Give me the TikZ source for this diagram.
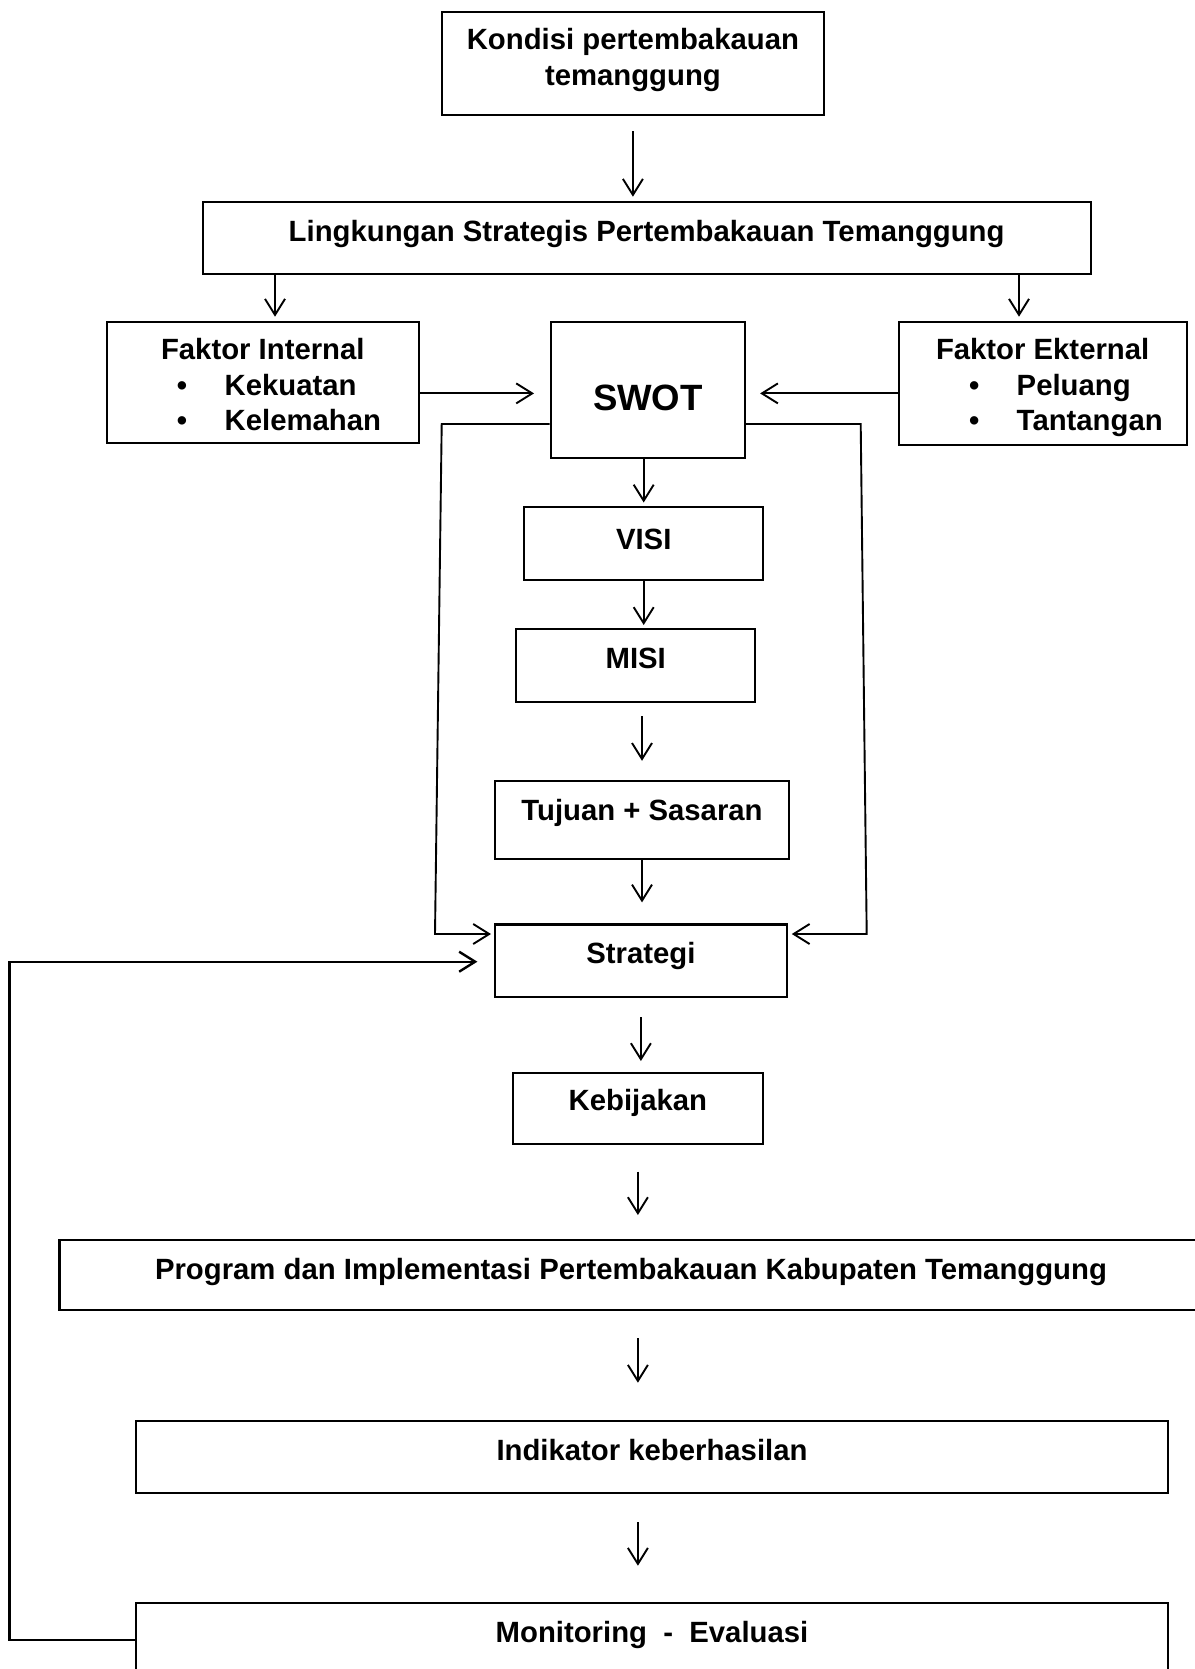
\documentclass[tikz,border=0pt]{standalone}
\usepackage{fontspec}
\setmainfont{Liberation Sans}
\usetikzlibrary{arrows.meta}
\tikzset{box/.style={draw,line width=2.1pt,inner sep=0pt,anchor=north,text height=39.5pt,font=\fontsize{29.3}{35.5}\selectfont\bfseries}}
\tikzset{multibox/.style={draw,line width=2.1pt,inner sep=0pt,anchor=north,align=center,font=\fontsize{29.3}{35.5}\selectfont\bfseries}}
\tikzset{arr/.style={line width=1.9pt,-{Straight Barb[length=16pt,width=20pt]}}}
\newcommand{\faktoritem}[2]{\makebox[#1][l]{\hspace*{70.3pt}\textbullet\hspace*{37.5pt}#2}}

\begin{document}
\begin{tikzpicture}[x=1pt,y=-1pt]
      \useasboundingbox (0,0) rectangle (1194,1669);
      \pgfmathsetmacro{\intw}{312.3}
      \pgfmathsetmacro{\extw}{287.9}
      \coordinate (lx) at (275,0);
      \coordinate (rx) at (1019,0);
      \coordinate (ay) at (0,393.4);
      \coordinate (ly) at (0,424);
      \coordinate (sy) at (0,934);
      \coordinate (fy) at (0,961.7);
      \coordinate (my) at (0,1640);
      \coordinate (llt) at (441.7,424);
      \coordinate (llb) at (435,934);
      \coordinate (rlt) at (860.7,424);
      \coordinate (rlb) at (866.7,934);
      \coordinate (fbt) at (9.5,961.7);
      \coordinate (fbb) at (9.5,1640);

      \node[multibox,minimum width=382.3pt,minimum height=103pt] (kondisi) at (632.9,11) {Kondisi pertembakauan\\temanggung\rule[-13.2pt]{0pt}{13.2pt}};
      \node[box,minimum width=888pt,text depth=32.8pt] (lingkungan) at (646.6,201) {Lingkungan Strategis Pertembakauan Temanggung};
      \node[multibox,minimum width=\intw pt,minimum height=120.7pt] (internal) at (262.8,321) {\rule{0pt}{25.5pt}Faktor Internal\\\faktoritem{\intw pt}{Kekuatan}\\\faktoritem{\intw pt}{Kelemahan}};
      \node[box,minimum width=194.3pt,text height=88.8pt,text depth=46.7pt,font=\fontsize{36.6}{44}\selectfont\bfseries] (swot) at (647.9,321) {SWOT};
      \node[multibox,minimum width=\extw pt,minimum height=123.3pt] (eksternal) at (1042.65,321) {\rule{0pt}{29pt}Faktor Ekternal\\\faktoritem{\extw pt}{Peluang}\\\faktoritem{\extw pt}{Tantangan}};
      \node[box,minimum width=239.3pt,text height=42.5pt,text depth=30.2pt] (visi) at (643.7,506.3) {VISI};
      \node[box,minimum width=239.3pt,text depth=33.2pt] (misi) at (635.7,628) {MISI};
      \node[box,minimum width=294.6pt,text depth=38.1pt] (tujuan) at (642,780) {Tujuan + Sasaran};
      \node[box,minimum width=291.7pt,text depth=33.1pt] (strategi) at (640.9,923.4) {Strategi};
      \node[box,minimum width=250.2pt,text height=37.5pt,text depth=33.8pt] (kebijakan) at (637.9,1071.7) {Kebijakan};
      \node[box,minimum width=1143pt,text depth=30.5pt] (program) at (631,1239) {Program dan Implementasi Pertembakauan Kabupaten Temanggung};
      \node[box,minimum width=1032.7pt,text depth=32.8pt] (indikator) at (652,1420) {Indikator keberhasilan};
      \node[box,minimum width=1032.7pt,text depth=32.5pt] (monitoring) at (652,1602.3) {Monitoring\ \ -\ \ Evaluasi};

      \draw[arr,shorten <=15.3pt,shorten >=4.3pt] (kondisi.south) -- (kondisi.south |- lingkungan.north);
      \draw[arr,shorten >=4.3pt] (lingkungan.south -| lx) -- (internal.north -| lx);
      \draw[arr,shorten >=4.3pt] (lingkungan.south -| rx) -- (eksternal.north -| rx);
      \draw[arr,shorten >=15.7pt] (internal.east |- ay) -- (swot.west |- ay);
      \draw[arr,shorten >=14pt] (eksternal.west |- ay) -- (swot.east |- ay);
      \draw[arr,shorten >=3.8pt] (visi.north |- swot.south) -- (visi.north);
      \draw[arr,shorten >=3pt] (visi.south) -- (visi.south |- misi.north);
      \draw[arr,shorten <=13.3pt,shorten >=19.2pt] (tujuan.north |- misi.south) -- (tujuan.north);
      \draw[arr,shorten >=21pt] (tujuan.south) -- (tujuan.south |- strategi.north);
      \draw[arr,shorten <=19pt,shorten >=10.7pt] (strategi.south) -- (strategi.south |- kebijakan.north);
      \draw[arr,shorten <=26.5pt,shorten >=24pt] (kebijakan.south) -- (kebijakan.south |- program.north);
      \draw[arr,shorten <=27pt,shorten >=37.3pt] (program.south -| kebijakan.south) -- (indikator.north -| kebijakan.south);
      \draw[arr,shorten <=27.7pt,shorten >=36.6pt] (indikator.south -| kebijakan.south) -- (monitoring.north -| kebijakan.south);

      \draw[arr,shorten >=3pt] (swot.west |- ly) -- (llt) -- (llb) -- (strategi.west |- sy);
      \draw[arr,shorten >=4pt] (swot.east |- ly) -- (rlt) -- (rlb) -- (strategi.east |- sy);
      \draw[arr,line width=2.4pt,shorten >=16.6pt] (monitoring.west |- my) -- (fbb) -- (fbt) -- (strategi.west |- fy);
\end{tikzpicture}
\end{document}
